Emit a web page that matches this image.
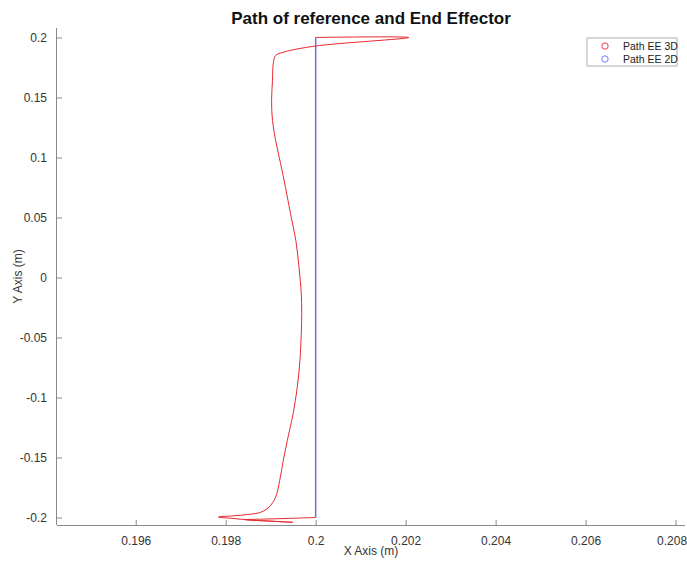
<!DOCTYPE html>
<html>
<head>
<meta charset="utf-8">
<script src="https://cdn.jsdelivr.net/npm/d3@7"></script>
<style>
  body { margin: 0; background: #fff; }
</style>
</head>
<body>
<script>
// end effector path (3D)
const pathX = [
  0.2, 0.19944, 0.19889, 0.19844, 0.199, 0.19949, 0.19911, 0.19856, 0.19816,
  0.19784, 0.19818, 0.19849, 0.19878, 0.19896, 0.19911, 0.1992, 0.19928,
  0.19937, 0.1995, 0.19959, 0.19965, 0.19968, 0.19969, 0.19968, 0.19963,
  0.19956, 0.19944, 0.19933, 0.19922, 0.19911, 0.19904, 0.19902, 0.19904,
  0.19906, 0.19911, 0.19929, 0.19998, 0.20207, 0.2,
];
const pathY = [
  -0.2, -0.2007, -0.2013, -0.2018, -0.203, -0.204, -0.2033, -0.2022, -0.2008,
  -0.1996, -0.1986, -0.1975, -0.1956, -0.1914, -0.1831, -0.1692, -0.1525,
  -0.1358, -0.1133, -0.0917, -0.0692, -0.0467, -0.03, -0.0133, 0.0083,
  0.0308, 0.0533, 0.075, 0.095, 0.1142, 0.1308, 0.1475, 0.1642, 0.1792,
  0.185, 0.1878, 0.1928, 0.2, 0.2,
];

// reference path (2D)
const refX = [0.2, 0.2];
const refY = [-0.2, 0.2];

const xTicks = [0.196, 0.198, 0.2, 0.202, 0.204, 0.206, 0.208];
const yTicks = [-0.2, -0.15, -0.1, -0.05, 0, 0.05, 0.1, 0.15, 0.2];
const legendLabels = ["Path EE 3D", "Path EE 2D"];
const legendColors = ["#e8282e", "#6a6aff"];

const width = 687;
const height = 563;
const plotLeft = 57;
const plotRight = 685;
const plotTop = 28;
const plotBottom = 525;

const xScale = d3
  .scaleLinear()
  .domain([0.19425, 0.20821])
  .range([plotLeft, plotRight]);
const yScale = d3
  .scaleLinear()
  .domain([-0.20625, 0.2079])
  .range([plotBottom, plotTop]);

const svg = d3
  .select("body")
  .append("svg")
  .attr("width", width)
  .attr("height", height)
  .style("font-family", "'Liberation Sans', Arial, sans-serif");

const axisColor = "#8a8a8a";
const textColor = "#333";

const xAxis = d3
  .axisBottom(xScale)
  .tickValues(xTicks)
  .tickSize(-5)
  .tickPadding(11)
  .tickFormat((d) => String(+d.toFixed(3)));
const yAxis = d3
  .axisLeft(yScale)
  .tickValues(yTicks)
  .tickSize(-5)
  .tickPadding(10)
  .tickFormat((d) => String(+d.toFixed(2)));

const gx = svg
  .append("g")
  .attr("transform", `translate(0 ${plotBottom})`)
  .call(xAxis);
const gy = svg
  .append("g")
  .attr("transform", `translate(${plotLeft} 0)`)
  .call(yAxis);

[gx, gy].forEach((g) => {
  g.select(".domain").attr("stroke", axisColor);
  g.selectAll(".tick line").attr("stroke", axisColor);
  g.selectAll("text")
    .attr("fill", textColor)
    .attr("font-size", "12")
    .attr("font-family", "'Liberation Sans', Arial, sans-serif");
});
// plain spines, no end caps
gx.select(".domain").attr("d", `M ${plotLeft} 0.5 H ${plotRight}`);
gy.select(".domain").attr("d", `M -0.5 ${plotTop} V ${plotBottom}`);
// last x label sits at the window edge
gx.selectAll(".tick text")
  .filter((d) => d === xTicks[xTicks.length - 1])
  .attr("text-anchor", "end")
  .attr("x", 11);

const line = d3
  .line()
  .curve(d3.curveCatmullRom.alpha(0.5))
  .x((d) => xScale(d[0]))
  .y((d) => yScale(d[1]));

svg
  .append("path")
  .datum(refX.map((x, i) => [x, refY[i]]))
  .attr("d", line)
  .attr("fill", "none")
  .attr("stroke", legendColors[1])
  .attr("stroke-width", 1.5);

svg
  .append("path")
  .datum(pathX.map((x, i) => [x, pathY[i]]))
  .attr("d", line)
  .attr("fill", "none")
  .attr("stroke", legendColors[0])
  .attr("stroke-width", 1)
  .attr("stroke-linejoin", "round");

// title and labels
svg
  .append("text")
  .attr("x", (plotLeft + plotRight) / 2)
  .attr("y", 24)
  .attr("text-anchor", "middle")
  .attr("font-size", "17")
  .attr("font-weight", "bold")
  .attr("fill", "#111")
  .text("Path of reference and End Effector");

svg
  .append("text")
  .attr("x", (plotLeft + plotRight) / 2)
  .attr("y", 555)
  .attr("text-anchor", "middle")
  .attr("font-size", "12")
  .attr("fill", textColor)
  .text("X Axis (m)");

svg
  .append("text")
  .attr("transform", `translate(22 ${(plotTop + plotBottom) / 2}) rotate(-90)`)
  .attr("text-anchor", "middle")
  .attr("font-size", "12")
  .attr("fill", textColor)
  .text("Y Axis (m)");

// legend
const legend = svg.append("g").attr("transform", "translate(587 38)");
legend
  .append("rect")
  .attr("width", 90)
  .attr("height", 28)
  .attr("fill", "#fff")
  .attr("stroke", "#999")
  .attr("stroke-width", 0.8);

const items = legend
  .selectAll("g")
  .data(legendLabels)
  .enter()
  .append("g")
  .attr("transform", (d, i) => `translate(0 ${8 + i * 13})`);

items
  .append("circle")
  .attr("cx", 18)
  .attr("r", 3.2)
  .attr("fill", "none")
  .attr("stroke", (d, i) => legendColors[i])
  .attr("stroke-width", 0.9);

items
  .append("text")
  .attr("x", 36)
  .attr("y", 3.5)
  .attr("font-size", "10.5")
  .attr("fill", "#222")
  .text((d) => d);
</script>
</body>
</html>
